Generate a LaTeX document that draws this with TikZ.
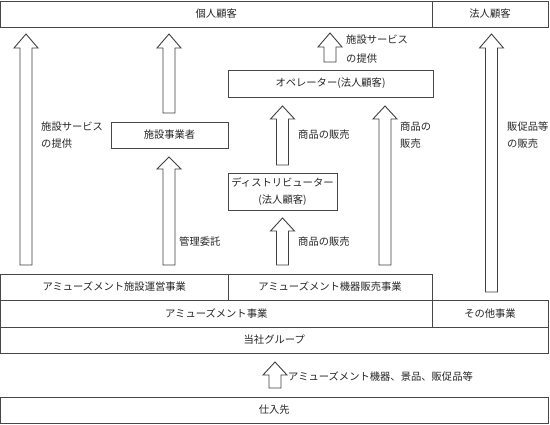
\documentclass[tikz,border=0pt]{standalone}
\usepackage{fontspec}
\newfontfamily\jp{Noto Sans CJK JP}
\newcommand\jpf{\jp\fontsize{10.3}{17}\selectfont}
\tikzset{
  box/.style={draw=black!72, line width=0.9pt, inner sep=0pt, font=\jpf, text=black!85, align=center},
  lbl/.style={font=\jpf, text=black!85, anchor=west, inner sep=0pt, align=left},
  blockarr/.style={draw=black!75, line width=0.9pt, fill=white, line join=miter},
}
% box: name, x1, y1, x2, y2, text
\newcommand\bx[6]{\node[box, minimum width={(#4-#2)*1pt}, minimum height={(#5-#3)*1pt}] (#1) at ({(#2+#4)/2},{(#3+#5)/2}) {#6};}
% hollow block arrow: centre x, tip y, head base y, bottom y
\newcommand\barrow[4]{\draw[blockarr] ({#1-6},#4) -- ({#1-6},#3) -- ({#1-12},#3) -- (#1,#2) -- ({#1+12},#3) -- ({#1+6},#3) -- ({#1+6},#4) -- cycle;}
\begin{document}
\begin{tikzpicture}[x=1pt,y=-1pt]
\useasboundingbox[fill=white] (0,0) rectangle (550,424);
% boxes
\bx{kojin}{0.5}{1}{432}{27}{個人顧客}
\bx{hojin}{432}{1}{548}{27}{法人顧客}
\bx{jigyosha}{111}{122}{228}{148}{施設事業者}
\bx{op}{228}{70}{433}{97}{オペレーター(法人顧客)}
\bx{dist}{228}{173}{337}{210}{ディストリビューター\\(法人顧客)}
\bx{unei}{0.5}{274}{228}{300}{アミューズメント施設運営事業}
\bx{kiki}{228}{274}{432}{300}{アミューズメント機器販売事業}
\bx{amuse}{0.5}{300}{432}{327}{アミューズメント事業}
\bx{sonota}{432}{300}{548}{327}{その他事業}
\bx{group}{0.5}{327}{548}{353}{当社グループ}
\bx{shiire}{0.5}{397}{548}{423}{仕入先}
% block arrows
\barrow{26}{34}{48}{265}
\barrow{169}{34}{48}{113}
\barrow{169}{157}{169}{265}
\barrow{330}{33}{47}{62}
\barrow{282.5}{106}{119}{165}
\barrow{282.5}{218}{231}{265}
\barrow{385}{106}{119}{265}
\barrow{491.5}{34}{48}{292}
\barrow{275}{362}{375}{388}
% labels
\node[lbl] (l1) at (41,135.5) {施設サービス\\の提供};
\node[lbl] (l2) at (179,242) {管理委託};
\node[lbl, font=\jp\fontsize{10.3}{19}\selectfont] (l3) at (346,49.5) {施設サービス\\の提供};
\node[lbl] (l4) at (298,135) {商品の販売};
\node[lbl] (l5) at (298,242) {商品の販売};
\node[lbl] (l6) at (400,135.5) {商品の\\販売};
\node[lbl] (l7) at (507,135.5) {販促品等\\の販売};
\node[lbl] (l8) at (288,377) {アミューズメント機器、景品、販促品等};
\end{tikzpicture}
\end{document}
